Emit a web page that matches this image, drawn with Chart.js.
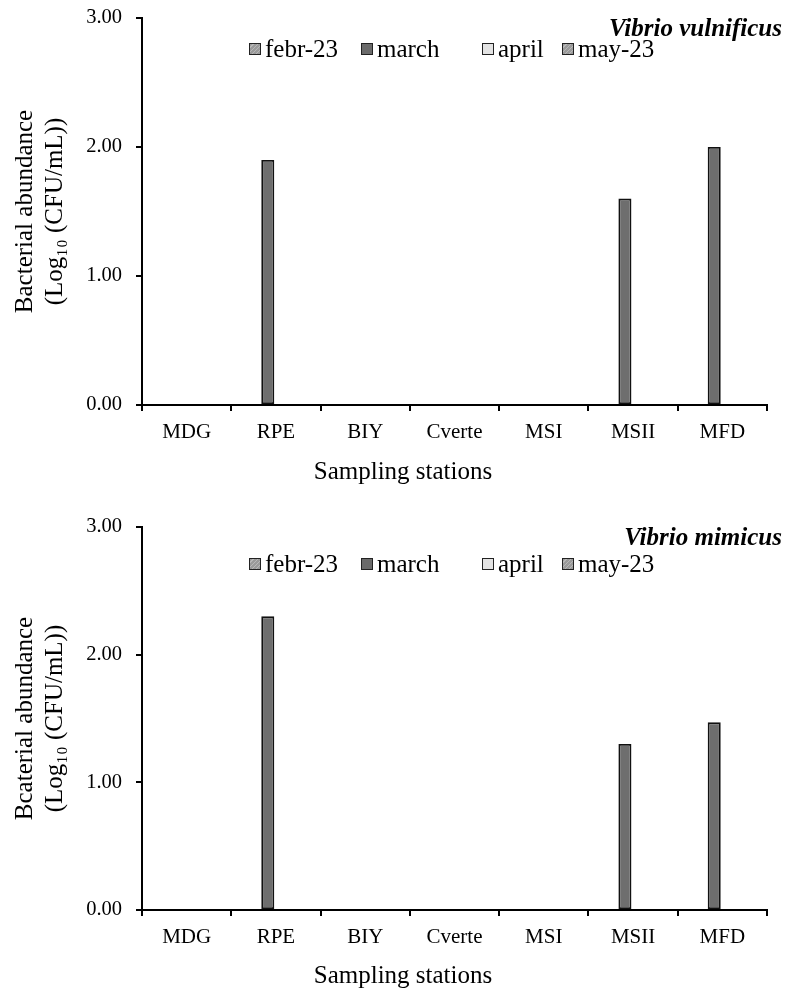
<!DOCTYPE html>
<html>
<head>
<meta charset="utf-8">
<script src="https://cdn.jsdelivr.net/npm/chart.js@4.4.0/dist/chart.umd.min.js"></script>
<style>
  body { margin: 0; background: #fff; font-family: "Liberation Serif", "Times New Roman", serif; }
  #wrap { position: relative; width: 791px; height: 992px; overflow: hidden; }
  .panel { position: absolute; left: 0; width: 791px; height: 496px; }
  .panel canvas { position: absolute; left: 0; top: 0; }
  .species { position: absolute; right: 9px; font-weight: bold; font-style: italic; font-size: 25px; line-height: 26px; }
  .legend { position: absolute; left: 0; height: 26px; width: 791px; font-size: 25px; line-height: 26px; }
  .item { position: absolute; top: 0; display: flex; align-items: center; white-space: nowrap; }
  .sw { width: 10px; height: 10px; border: 1px solid #222; margin-right: 4px; }
  .xtitle { position: absolute; left: 303px; width: 200px; text-align: center; font-size: 25px; line-height: 30px; }
</style>
</head>
<body>
<div id="wrap">
  <div class="panel" id="p1" style="top:0">
    <canvas id="c1" width="791" height="496"></canvas>
    <div class="species" style="top:15px">Vibrio vulnificus</div>
    <div class="legend" id="lg1" style="top:36px"></div>
    <div class="xtitle" style="top:456px">Sampling stations</div>
  </div>
  <div class="panel" id="p2" style="top:496px">
    <canvas id="c2" width="791" height="496"></canvas>
    <div class="species" style="top:28px">Vibrio mimicus</div>
    <div class="legend" id="lg2" style="top:55px"></div>
    <div class="xtitle" style="top:464px">Sampling stations</div>
  </div>
</div>
<script>
const stations = ['MDG', 'RPE', 'BIY', 'Cverte', 'MSI', 'MSII', 'MFD'];
const months = ['febr-23', 'march', 'april', 'may-23'];
const yTicks = [0, 1, 2, 3];

// Vibrio vulnificus, log10 CFU/mL
const vulnFebr = [0, 0, 0, 0, 0, 0, 0];
const vulnMarch = [0, 1.9, 0, 0, 0, 1.6, 2.0];
const vulnApril = [0, 0, 0, 0, 0, 0, 0];
const vulnMay = [0, 0, 0, 0, 0, 0, 0];

// Vibrio mimicus, log10 CFU/mL
const mimFebr = [0, 0, 0, 0, 0, 0, 0];
const mimMarch = [0, 2.3, 0, 0, 0, 1.3, 1.47];
const mimApril = [0, 0, 0, 0, 0, 0, 0];
const mimMay = [0, 0, 0, 0, 0, 0, 0];

const monthFill = ['#a4a4a4', '#6e6e6e', '#e3e3e3', '#a4a4a4'];
const swatchBg = [
  'repeating-linear-gradient(135deg,#9a9a9a 0 2px,#b8b8b8 2px 3px)',
  '#6a6a6a',
  '#e3e3e3',
  'repeating-linear-gradient(135deg,#9a9a9a 0 2px,#b8b8b8 2px 3px)'
];
const legendX = [249, 361, 482, 562];

const serif = '"Liberation Serif", "Times New Roman", serif';

function buildLegend(id) {
  const el = document.getElementById(id);
  months.forEach((m, i) => {
    const item = document.createElement('div');
    item.className = 'item';
    item.style.left = legendX[i] + 'px';
    const sw = document.createElement('div');
    sw.className = 'sw';
    sw.style.background = swatchBg[i];
    const t = document.createElement('span');
    t.textContent = m;
    item.appendChild(sw);
    item.appendChild(t);
    el.appendChild(item);
  });
}

function makeChart(canvasId, series, yTitle, padTop, xHeight) {
  const ctx = document.getElementById(canvasId).getContext('2d');
  return new Chart(ctx, {
    type: 'bar',
    data: {
      labels: stations,
      datasets: months.map((m, i) => ({
        label: m,
        data: series[i],
        backgroundColor: monthFill[i],
        borderColor: '#111',
        borderWidth: 1.8,
        borderSkipped: false,
        barPercentage: 0.8,
        categoryPercentage: 0.73
      }))
    },
    options: {
      responsive: false,
      animation: false,
      layout: { padding: { top: padTop, right: 24, left: 0, bottom: 0 } },
      plugins: {
        legend: { display: false },
        title: { display: false },
        tooltip: { enabled: false }
      },
      scales: {
        x: {
          afterFit: s => { s.height = xHeight; },
          grid: { display: true, drawOnChartArea: false, drawTicks: true, tickLength: 6, color: '#000', lineWidth: 2, offset: true },
          border: { display: true, color: '#000', width: 2 },
          ticks: { color: '#000', padding: 9, font: { family: serif, size: 21 } }
        },
        y: {
          min: 0,
          max: 3,
          afterFit: s => { s.width = 142; s.paddingTop = 0; s.paddingBottom = 0; },
          afterBuildTicks: s => { s.ticks = yTicks.map(v => ({ value: v })); },
          grid: { display: true, drawOnChartArea: false, drawTicks: true, tickLength: 6, color: '#000', lineWidth: 2 },
          border: { display: true, color: '#000', width: 2 },
          ticks: { color: '#000', padding: 14, font: { family: serif, size: 20.5 }, callback: v => Number(v).toFixed(2) },
          title: {
            display: true,
            text: yTitle,
            color: '#000',
            font: { family: serif, size: 25, lineHeight: 1.2 },
            padding: { top: 10, bottom: 0 }
          }
        }
      }
    }
  });
}

buildLegend('lg1');
buildLegend('lg2');

makeChart('c1', [vulnFebr, vulnMarch, vulnApril, vulnMay],
  ['Bacterial abundance', '(Log\u2081\u2080 (CFU/mL))'], 18, 91);
makeChart('c2', [mimFebr, mimMarch, mimApril, mimMay],
  ['Bcaterial abundance', '(Log\u2081\u2080 (CFU/mL))'], 31, 82);
</script>
</body>
</html>
